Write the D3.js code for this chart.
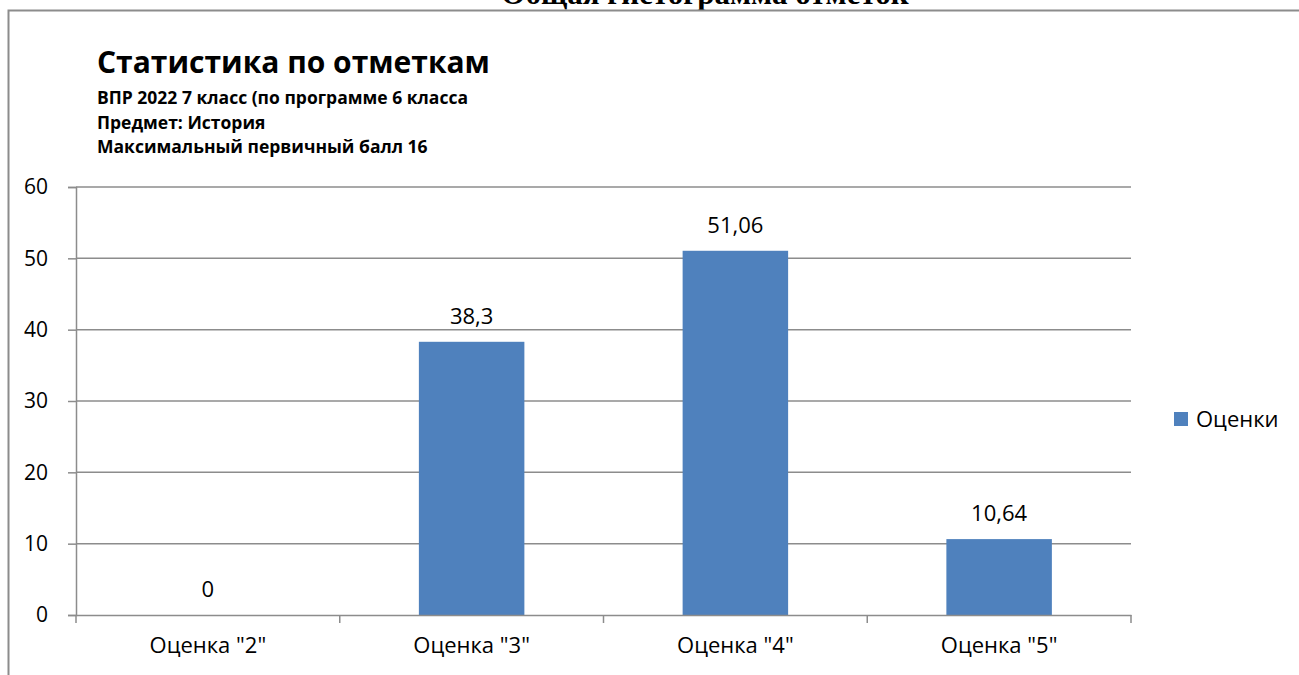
<!DOCTYPE html>
<html>
<head>
<meta charset="utf-8">
<script src="https://cdn.jsdelivr.net/npm/d3@7"></script>
<style>
  html, body { margin: 0; padding: 0; background: #fff; }
  svg { display: block; }
</style>
</head>
<body>
<svg id="chart" width="1299" height="675"></svg>
<script>
const categories = ['Оценка "2"', 'Оценка "3"', 'Оценка "4"', 'Оценка "5"'];
const values = [0, 38.3, 51.06, 10.64];
const valueLabels = ["0", "38,3", "51,06", "10,64"];
const yTicks = [0, 10, 20, 30, 40, 50, 60];
const seriesName = "Оценки";
const pageTitle = "Общая гистограмма отметок";
const chartTitle = "Статистика по отметкам";
const subtitleLines = ["ВПР 2022 7 класс (по программе 6 класса", "Предмет: История", "Максимальный первичный балл 16"];

const svg = d3.select("#chart");
const font = "'Open Sans', 'Noto Sans', sans-serif";
const gridColor = "#8c8c8c";
const barColor = "#4F81BD";

// page title (cut at top, as in the source document)
svg.append("text").attr("x", 705).attr("y", 4).attr("text-anchor", "middle")
  .attr("font-family", "'Liberation Serif', serif").attr("font-weight", "bold")
  .attr("font-size", 31).text(pageTitle);

// outer frame
svg.append("path").attr("d", "M8.5,675 V10.5 H1299").attr("fill", "none")
  .attr("stroke", gridColor).attr("stroke-width", 2);

// headers
svg.append("text").attr("x", 97).attr("y", 73).attr("font-family", font)
  .attr("font-weight", "bold").attr("font-size", 30).attr("fill", "#000").text(chartTitle);
subtitleLines.forEach((t, i) => {
  svg.append("text").attr("x", 97).attr("y", 104 + i * 24.5).attr("font-family", font)
    .attr("font-weight", "bold").attr("font-size", 17.5).attr("fill", "#000").text(t);
});

const x = d3.scaleBand().domain(categories).range([76, 1131]).padding(0);
const y = d3.scaleLinear().domain([0, 60]).range([615, 187]);

// gridlines
svg.append("g").selectAll("line").data(yTicks.filter(d => d > 0)).join("line")
  .attr("x1", 76).attr("x2", 1131).attr("y1", d => y(d)).attr("y2", d => y(d))
  .attr("stroke", gridColor).attr("stroke-width", 1.5);

// y axis
const yAxis = svg.append("g").attr("transform", "translate(76,0)")
  .call(d3.axisLeft(y).tickValues(yTicks).tickSize(8).tickPadding(20).tickFormat(d3.format("d")));
yAxis.select(".domain").attr("stroke", gridColor).attr("stroke-width", 1.5);
yAxis.selectAll(".tick line").attr("stroke", gridColor).attr("stroke-width", 1.5);
yAxis.selectAll(".tick text").attr("font-family", font).attr("font-size", 21).attr("fill", "#000");

// bars
const bw = x.bandwidth() * 0.4;
svg.append("g").selectAll("rect").data(values).join("rect")
  .attr("x", (d, i) => x(categories[i]) + (x.bandwidth() - bw) / 2)
  .attr("width", bw)
  .attr("y", d => y(d)).attr("height", d => y(0) - y(d))
  .attr("fill", barColor);

// x axis
const xAxis = svg.append("g").attr("transform", "translate(0,615)")
  .call(d3.axisBottom(x).tickSize(0).tickPadding(22));
xAxis.select(".domain").attr("stroke", gridColor).attr("stroke-width", 1.5);
xAxis.selectAll(".tick text").attr("font-family", font).attr("font-size", 22).attr("fill", "#000");
// category boundary tick marks
const bounds = categories.map(c => x(c)).concat([x.range()[1]]);
svg.append("g").selectAll("line").data(bounds).join("line")
  .attr("x1", d => d).attr("x2", d => d).attr("y1", 615).attr("y2", 623)
  .attr("stroke", gridColor).attr("stroke-width", 1.5);

// data labels
svg.append("g").selectAll("text").data(values).join("text")
  .attr("x", (d, i) => x(categories[i]) + x.bandwidth() / 2)
  .attr("y", d => y(d) - 18)
  .attr("text-anchor", "middle").attr("font-family", font).attr("font-size", 22)
  .attr("fill", "#000").text((d, i) => valueLabels[i]);

// legend
svg.append("rect").attr("x", 1174).attr("y", 412).attr("width", 14).attr("height", 14).attr("fill", barColor);
svg.append("text").attr("x", 1196).attr("y", 427).attr("font-family", font).attr("font-size", 22)
  .attr("fill", "#000").text(seriesName);
</script>
</body>
</html>
